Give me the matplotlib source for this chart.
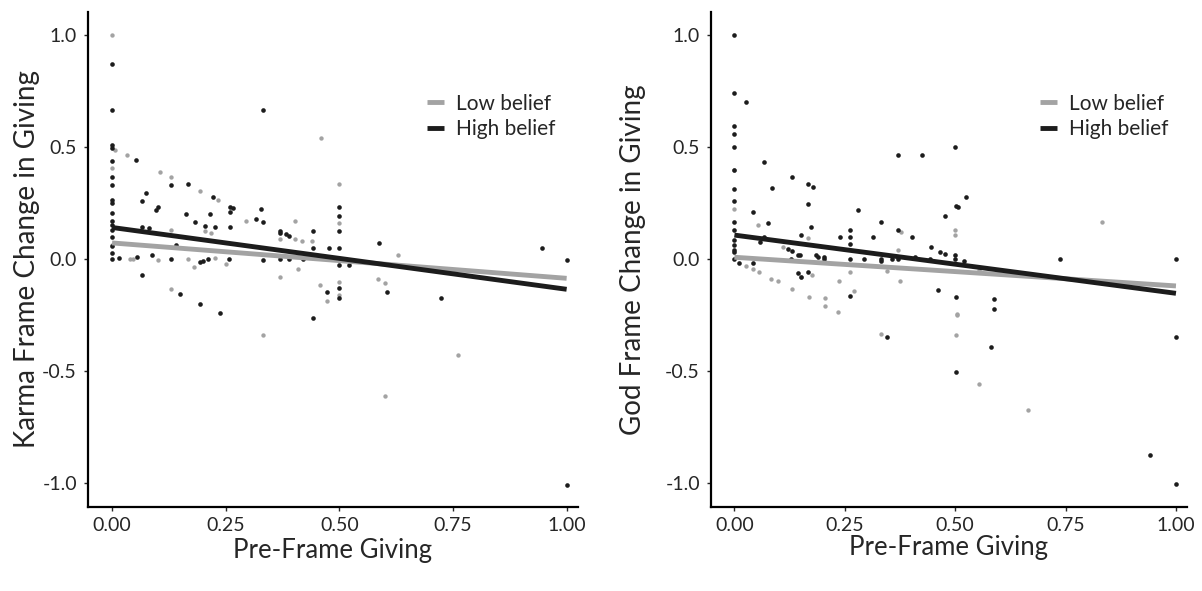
import matplotlib
matplotlib.use("Agg")
import matplotlib.pyplot as plt
import numpy as np

plt.rcParams['font.family'] = ['Lato', 'DejaVu Sans']
plt.rcParams['axes.unicode_minus'] = False

# Karma frame, high belief (black dots)
karma_high_x = [0]*17 + [0.015, 0.053, 0.055, 0.065, 0.065, 0.065, 0.074, 0.082, 0.088, 0.096, 0.1,
                0.13, 0.13, 0.14, 0.149, 0.163, 0.166, 0.182, 0.193, 0.194, 0.2, 0.205, 0.21, 0.216,
                0.221, 0.227, 0.238, 0.26, 0.265, 0.26, 0.26, 0.257, 0.316, 0.328, 0.332, 0.333, 0.333,
                0.369, 0.369, 0.369, 0.383, 0.39, 0.389, 0.42, 0.442, 0.443, 0.443, 0.472, 0.478,
                0.5, 0.5, 0.5, 0.5, 0.5, 0.5, 0.5, 0.522, 0.587, 0.605, 0.723, 0.945, 1.0, 1.0]
karma_high_y = [0.87, 0.665, 0.51, 0.495, 0.44, 0.367, 0.33, 0.265, 0.25, 0.205, 0.17, 0.15, 0.13, 0.10,
                0.06, 0.028, 0.0,
                0.006, 0.442, 0.01, 0.259, 0.141, -0.07, 0.293, 0.137, 0.02, 0.22, 0.232,
                0.33, 0.0, 0.061, -0.156, 0.2, 0.335, 0.164, -0.013, -0.2, -0.01, 0.149, 0.0, 0.2,
                0.275, 0.144, -0.24, 0.232, 0.226, 0.21, 0.144, 0.0, 0.18, 0.223, 0.164, 0.665, -0.005,
                0.125, 0.115, 0.0, 0.11, 0.103, 0.0, 0.0, -0.265, 0.125, 0.05, -0.145, 0.05,
                0.234, 0.193, 0.125, 0.05, -0.025, -0.128, -0.175, -0.025, 0.073, -0.146, -0.173, 0.05,
                -0.005, -1.01]

# Karma frame, low belief (grey dots)
karma_low_x = [0, 0, 0, 0.007, 0.032, 0.04, 0.045, 0.106, 0.1, 0.13, 0.13, 0.13, 0.166, 0.181, 0.194,
               0.205, 0.217, 0.227, 0.232, 0.25, 0.295, 0.333, 0.369, 0.369, 0.403, 0.403, 0.41, 0.417,
               0.44, 0.458, 0.46, 0.472, 0.5, 0.5, 0.5, 0.5, 0.584, 0.6, 0.6, 0.63, 0.76]
karma_low_y = [1.0, 0.405, 0.062, 0.487, 0.464, 0.0, 0.0, 0.39, -0.005, 0.367, 0.13, -0.135, 0.0, -0.034,
               0.304, 0.125, 0.115, 0.005, 0.263, -0.022, 0.17, -0.34, 0.09, -0.08, 0.17, 0.09, -0.046,
               0.08, 0.08, -0.116, 0.54, -0.186, 0.333, 0.162, -0.104, -0.16, -0.087, -0.105, -0.61,
               0.017, -0.43]

# God frame, high belief (black dots)
god_high_x = [0]*15 + [0.011, 0.027, 0.042, 0.042, 0.057, 0.066, 0.066, 0.075, 0.085, 0.122, 0.131, 0.131,
              0.128, 0.144, 0.149, 0.144, 0.15, 0.15, 0.166, 0.167, 0.167, 0.173, 0.179, 0.185, 0.19,
              0.204, 0.204, 0.239, 0.262, 0.262, 0.262, 0.262, 0.262, 0.28, 0.294, 0.313, 0.333, 0.333,
              0.333, 0.345, 0.356, 0.371, 0.371, 0.371, 0.402, 0.41, 0.425, 0.442, 0.445, 0.461, 0.466,
              0.477, 0.477, 0.5, 0.502, 0.507, 0.5, 0.5, 0.501, 0.501, 0.521, 0.524, 0.582, 0.588, 0.588,
              0.738, 0.941, 1.0, 1.0, 1.0]
god_high_y = [1.0, 0.74, 0.594, 0.557, 0.5, 0.397, 0.314, 0.259, 0.167, 0.13, 0.085, 0.062, 0.04, 0.03, 0.0,
              -0.016, 0.70, 0.21, -0.016, 0.077, 0.432, 0.1, 0.162, 0.315, 0.043, 0.367, 0.037,
              0.0, 0.018, 0.018, -0.063, 0.109, -0.08, 0.335, 0.244, -0.06, 0.143, 0.32, 0.02, 0.01,
              0.01, 0.0, 0.097, 0.13, 0.097, 0.067, 0.0, -0.165, 0.217, 0.0, 0.097, 0.167, 0.0,
              -0.01, -0.35, 0.0, 0.464, 0.13, 0.0, 0.097, 0.01, 0.464, 0.0, 0.055, -0.136, 0.033,
              0.021, 0.19, 0.5, 0.237, 0.232, 0.02, 0.0, -0.171, -0.504, -0.01, 0.275, -0.391, -0.18, -0.223,
              0.0, -0.873, 0.0, -0.35, -1.006]

# God frame, low belief (grey dots)
god_low_x = [0, 0, 0.026, 0.042, 0.053, 0.055, 0.083, 0.099, 0.109, 0.13, 0.15, 0.167, 0.176, 0.168,
             0.205, 0.205, 0.235, 0.238, 0.262, 0.27, 0.333, 0.345, 0.371, 0.375, 0.378, 0.5, 0.5,
             0.503, 0.505, 0.501, 0.555, 0.555, 0.666, 0.832]
god_low_y = [0.397, 0.222, -0.03, -0.045, 0.152, -0.057, -0.088, -0.098, 0.055, -0.134, -0.079, 0.092,
             -0.07, -0.171, -0.174, -0.208, -0.237, -0.098, -0.06, -0.144, -0.336, -0.054, 0.04, -0.098,
             0.122, 0.13, 0.107, -0.245, -0.25, -0.338, -0.558, -0.05, -0.674, 0.165]

# fitted lines, value at x=0 and x=1
fit_x = [0, 1]
karma_low_fit = [0.072, -0.086]
karma_high_fit = [0.141, -0.135]
god_low_fit = [0.008, -0.12]
god_high_fit = [0.107, -0.153]

grey = '#a3a3a3'
dark = '#1c1c1c'
txt = '#262626'

fig = plt.figure(figsize=(12.02, 5.91), dpi=100)
ax1 = fig.add_axes([88/1202, 1-507/591, 490/1202, 495/591])
ax2 = fig.add_axes([711/1202, 1-507/591, 476/1202, 495/591])

# axes, y label text, x label top (px), legend x, y label pad
panels = [(ax1, karma_low_x, karma_low_y, karma_high_x, karma_high_y, karma_low_fit, karma_high_fit,
           'Karma Frame Change in Giving', 538, 0.692, 1.5),
          (ax2, god_low_x, god_low_y, god_high_x, god_high_y, god_low_fit, god_high_fit,
           'God Frame Change in Giving', 535, 0.691, 13.5)]

for ax, lx, ly, hx, hy, lf, hf, ylab, xlab_top, leg_x, ypad in panels:
    ax.scatter(lx, ly, s=10, color=grey, linewidths=0, zorder=2)
    ax.scatter(hx, hy, s=11, color=dark, linewidths=0, zorder=3)
    ax.plot(fit_x, lf, color=grey, lw=3.5, solid_capstyle='butt', label='Low belief', zorder=4)
    ax.plot(fit_x, hf, color=dark, lw=3.5, solid_capstyle='butt', label='High belief', zorder=5)
    ax.set_xlim(-0.053, 1.025)
    ax.set_ylim(-1.107, 1.103)
    ax.set_xticks([0, 0.25, 0.5, 0.75, 1.0])
    ax.set_xticklabels(['0.00', '0.25', '0.50', '0.75', '1.00'])
    ax.set_yticks([-1.0, -0.5, 0.0, 0.5, 1.0])
    ax.set_yticklabels(['-1.0', '-0.5', '0.0', '0.5', '1.0'])
    for s in ['top', 'right']:
        ax.spines[s].set_visible(False)
    for s in ['left', 'bottom']:
        ax.spines[s].set_linewidth(1.6)
    ax.tick_params(length=3, width=1, labelsize=14, colors=txt, pad=5)
    ax.tick_params(axis='x', pad=4)
    ax.set_ylabel(ylab, fontsize=20, color=txt, labelpad=ypad)
    ax.set_xlabel('Pre-Frame Giving', fontsize=18.5, color=txt)
    ax.xaxis.set_label_coords(0.5, (507 - xlab_top) / 495)
    ax.legend(loc='upper left', bbox_to_anchor=(leg_x, 0.835), frameon=False, fontsize=15,
              handlelength=0.8, handletextpad=0.6, borderpad=0, borderaxespad=0,
              labelspacing=0.25, labelcolor=txt)

fig.savefig('out.png', dpi=100)
